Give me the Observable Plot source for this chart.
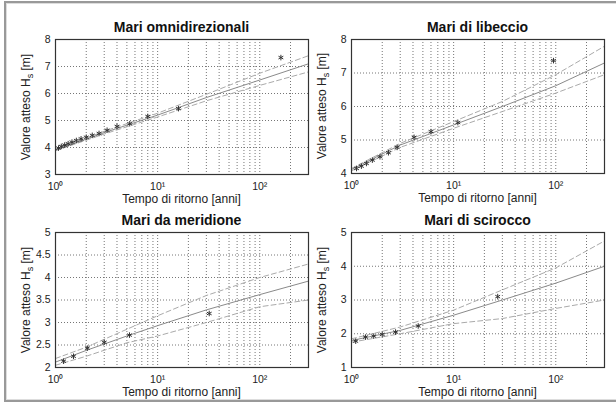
<!DOCTYPE html>
<html><head><meta charset="utf-8">
<script src="https://cdn.jsdelivr.net/npm/d3@7"></script>
<script src="https://cdn.jsdelivr.net/npm/@observablehq/plot@0.6"></script>
<style>
body{margin:0;background:#fff;font-family:"Liberation Sans",Arial,sans-serif;}
#wrap{position:relative;width:616px;height:404px;overflow:hidden;background:#fff;}
#border{position:absolute;left:4px;top:1px;width:640px;height:397px;border:2px solid #999;box-shadow:inset 0 0 0 1px #ddd;}
.panel{position:absolute;}
.title{position:absolute;font-weight:bold;font-size:14px;transform:translateX(-50%);white-space:nowrap;color:#111;}
.xl{position:absolute;font-size:12px;transform:translateX(-50%);white-space:nowrap;color:#222;}
.yl{position:absolute;font-size:12px;transform:translate(-50%,-50%) rotate(-90deg);white-space:nowrap;color:#222;}
</style>
</head><body>
<div id="wrap"><div id="border"></div></div>
<script>
// ---- shared axis data ----
const xDomain = [1, 300];
const xTicks = [1, 10, 100];
const xTickLabels = ["10⁰", "10¹", "10²"];
const xGrid = [1,2,3,4,5,6,7,8,9,10,20,30,40,50,60,70,80,90,100,200,300];
const titles = ["Mari omnidirezionali", "Mari di libeccio", "Mari da meridione", "Mari di scirocco"];
const xLabel = "Tempo di ritorno [anni]";
const yLabelMain = "Valore atteso H";
const yLabelSub = "s";
const yLabelUnit = " [m]";

// ---- Mari omnidirezionali ----
const omniT = [161, 16, 8, 5.33, 4, 3.2, 2.67, 2.29, 2, 1.78, 1.6, 1.45, 1.33, 1.23, 1.14, 1.07];
const omniH = [7.33, 5.44, 5.15, 4.88, 4.78, 4.64, 4.52, 4.45, 4.38, 4.32, 4.26, 4.2, 4.14, 4.09, 4.04, 3.98];
const omniLineT = [1, 3, 10, 30, 100, 300];
const omniFit = [3.9, 4.55, 5.2, 5.85, 6.5, 7.1];
const omniUp  = [3.92, 4.6, 5.27, 5.97, 6.75, 7.4];
const omniLo  = [3.88, 4.5, 5.13, 5.73, 6.3, 6.8];
const omniY = [3, 8]; const omniYTicks = [3,4,5,6,7,8];

// ---- Mari di libeccio ----
const libT = [95, 11, 6, 4.1, 2.8, 2.3, 1.9, 1.6, 1.4, 1.25, 1.12];
const libH = [7.37, 5.52, 5.25, 5.08, 4.78, 4.62, 4.5, 4.4, 4.3, 4.22, 4.15];
const libLineT = [1, 3, 10, 30, 100, 300];
const libFit = [4.12, 4.85, 5.45, 6.0, 6.62, 7.3];
const libUp  = [4.15, 4.9, 5.55, 6.15, 6.95, 7.8];
const libLo  = [4.08, 4.78, 5.35, 5.85, 6.4, 6.95];
const libY = [4, 8]; const libYTicks = [4,5,6,7,8];

// ---- Mari da meridione ----
const merT = [32, 5.3, 3, 2.05, 1.5, 1.2];
const merH = [3.2, 2.72, 2.56, 2.43, 2.25, 2.14];
const merLineT = [1, 2, 5, 10, 30, 100, 300];
const merFit = [2.12, 2.38, 2.7, 2.93, 3.28, 3.62, 3.92];
const merUp  = [2.2, 2.45, 2.85, 3.15, 3.6, 4.0, 4.3];
const merLo  = [2.05, 2.25, 2.55, 2.7, 3.0, 3.35, 3.5];
const merY = [2, 5]; const merYTicks = [2,2.5,3,3.5,4,4.5,5];

// ---- Mari di scirocco ----
const sciT = [27, 4.5, 2.7, 2.0, 1.65, 1.37, 1.1];
const sciH = [3.1, 2.23, 2.05, 1.98, 1.93, 1.9, 1.78];
const sciLineT = [1, 3, 10, 30, 100, 300];
const sciFit = [1.8, 2.1, 2.55, 3.0, 3.5, 4.0];
const sciUp  = [1.85, 2.2, 2.7, 3.3, 3.95, 4.75];
const sciLo  = [1.75, 2.0, 2.3, 2.45, 2.75, 3.0];
const sciY = [1, 5]; const sciYTicks = [1,2,3,4,5];

const panels = [
  {T: omniT, H: omniH, LT: omniLineT, fit: omniFit, up: omniUp, lo: omniLo, yd: omniY, yt: omniYTicks,
   left: 0, top: 0, w: 312, h: 202, ml: 55, mr: 4, mt: 39, mb: 28},
  {T: libT, H: libH, LT: libLineT, fit: libFit, up: libUp, lo: libLo, yd: libY, yt: libYTicks,
   left: 300, top: 0, w: 316, h: 202, ml: 51, mr: 12, mt: 39, mb: 29},
  {T: merT, H: merH, LT: merLineT, fit: merFit, up: merUp, lo: merLo, yd: merY, yt: merYTicks,
   left: 0, top: 202, w: 312, h: 202, ml: 55, mr: 4, mt: 30, mb: 37},
  {T: sciT, H: sciH, LT: sciLineT, fit: sciFit, up: sciUp, lo: sciLo, yd: sciY, yt: sciYTicks,
   left: 300, top: 202, w: 316, h: 202, ml: 51, mr: 12, mt: 30, mb: 37}
];

const wrap = document.getElementById("wrap");
const fmtX = new Map(xTicks.map((t, i) => [t, xTickLabels[i]]));

panels.forEach((p, k) => {
  const pts = p.T.map((t, i) => ({t, h: p.H[i]}));
  const ln = arr => p.LT.map((t, i) => ({t, h: arr[i]}));
  const chart = Plot.plot({
    width: p.w, height: p.h,
    marginLeft: p.ml, marginRight: p.mr, marginTop: p.mt, marginBottom: p.mb,
    style: {fontFamily: "'Liberation Sans', Arial, sans-serif", fontSize: "10.5px", color: "#222", background: "transparent", overflow: "visible"},
    x: {type: "log", domain: xDomain},
    y: {domain: p.yd, ticks: p.yt},
    marks: [
      Plot.ruleX(xGrid, {stroke: "#666", strokeWidth: 0.9, strokeDasharray: "1,2"}),
      Plot.ruleY(p.yt, {stroke: "#666", strokeWidth: 0.9, strokeDasharray: "1,2"}),
      Plot.line(ln(p.up), {x: "t", y: "h", stroke: "#aaa", strokeWidth: 1, strokeDasharray: "5,3"}),
      Plot.line(ln(p.lo), {x: "t", y: "h", stroke: "#aaa", strokeWidth: 1, strokeDasharray: "5,3"}),
      Plot.line(ln(p.fit), {x: "t", y: "h", stroke: "#8a8a8a", strokeWidth: 1}),
      Plot.dot(pts, {x: "t", y: "h", symbol: "asterisk", r: 2.6, stroke: "#333", strokeWidth: 1}),
      Plot.frame({stroke: "#333", strokeWidth: 1.2}),
      Plot.axisX({ticks: xTicks, tickSize: 0, tickPadding: 8, tickFormat: d => fmtX.get(d), label: null, fontSize: 10.5}),
      Plot.axisY({ticks: p.yt, tickSize: 0, tickPadding: 5, tickFormat: d => String(d), label: null, fontSize: 10.5})
    ]
  });
  chart.classList.add("panel");
  chart.style.left = p.left + "px";
  chart.style.top = p.top + "px";
  wrap.appendChild(chart);

  const frameL = p.left + p.ml, frameR = p.left + p.w - p.mr;
  const frameT = p.top + p.mt, frameB = p.top + p.h - p.mb;
  const cx = (frameL + frameR) / 2;

  const t = document.createElement("div");
  t.className = "title"; t.textContent = titles[k];
  t.style.left = cx + "px"; t.style.top = (frameT - 20) + "px";
  wrap.appendChild(t);

  const xl = document.createElement("div");
  xl.className = "xl"; xl.textContent = xLabel;
  xl.style.left = cx + "px"; xl.style.top = (frameB + 18) + "px";
  wrap.appendChild(xl);

  const yl = document.createElement("div");
  yl.className = "yl";
  yl.innerHTML = yLabelMain + "<sub style='font-size:9px'>" + yLabelSub + "</sub>" + yLabelUnit;
  yl.style.left = (frameL - 28) + "px"; yl.style.top = ((frameT + frameB) / 2) + "px";
  wrap.appendChild(yl);
});
</script>
</body></html>
